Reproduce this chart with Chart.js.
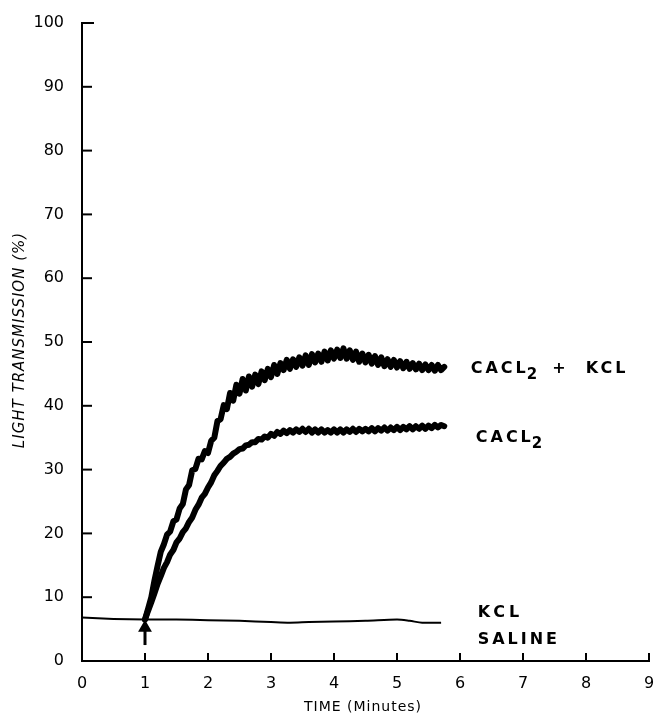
<!DOCTYPE html>
<html>
<head>
<meta charset="utf-8">
<script src="https://cdn.jsdelivr.net/npm/chart.js@4"></script>
<style>
  html, body { margin: 0; padding: 0; background: #fff; }
  #wrap { width: 657px; height: 716px; }
</style>
</head>
<body>
<div id="wrap"><canvas id="grafico" width="657" height="716"></canvas></div>
<script>
// time in minutes for the two recorded traces
var tempo = [1.00,1.05,1.10,1.15,1.20,1.25,1.30,1.35,1.40,1.45,1.50,1.55,1.60,1.65,1.70,1.75,1.80,1.85,1.90,1.95,
  2.00,2.05,2.10,2.15,2.20,2.25,2.30,2.35,2.40,2.45,2.50,2.55,2.60,2.65,2.70,2.75,2.80,2.85,2.90,2.95,
  3.00,3.05,3.10,3.15,3.20,3.25,3.30,3.35,3.40,3.45,3.50,3.55,3.60,3.65,3.70,3.75,3.80,3.85,3.90,3.95,
  4.00,4.05,4.10,4.15,4.20,4.25,4.30,4.35,4.40,4.45,4.50,4.55,4.60,4.65,4.70,4.75,4.80,4.85,4.90,4.95,
  5.00,5.05,5.10,5.15,5.20,5.25,5.30,5.35,5.40,5.45,5.50,5.55,5.60,5.65,5.70,5.75]

// CaCl2 + KCl
var cacl2Kcl = [6.5,8.2,10.0,12.6,14.9,17.1,18.3,19.8,20.3,21.9,22.2,23.9,24.6,26.9,27.6,29.9,30.1,31.7,31.6,32.9,
  32.6,34.5,35.0,37.6,37.9,40.1,39.5,42.0,40.8,43.3,41.9,44.2,42.4,44.6,43.0,44.9,43.4,45.4,44.0,45.8,
  44.5,46.4,45.0,46.7,45.6,47.2,45.8,47.3,46.1,47.6,46.3,47.9,46.4,48.1,46.8,48.2,46.9,48.5,47.1,48.7,
  47.4,48.8,47.5,49.0,47.4,48.7,47.2,48.5,46.9,48.2,46.8,48.0,46.6,47.8,46.4,47.6,46.2,47.3,46.1,47.2,
  46.0,47.0,45.9,46.9,45.8,46.7,45.7,46.6,45.6,46.5,45.6,46.4,45.5,46.4,45.6,46.1]

// CaCl2
var cacl2 = [6.5,7.9,9.2,10.6,12.1,13.3,14.6,15.5,16.7,17.4,18.6,19.2,20.2,20.8,21.8,22.5,23.7,24.5,25.6,26.2,
  27.2,28.0,29.1,29.8,30.6,31.1,31.7,32.0,32.5,32.8,33.2,33.3,33.8,33.9,34.3,34.3,34.8,34.7,35.2,35.0,
  35.6,35.3,35.9,35.6,36.1,35.7,36.2,35.8,36.3,35.9,36.4,35.9,36.4,35.8,36.3,35.8,36.3,35.8,36.2,35.8,
  36.3,35.8,36.3,35.8,36.3,35.9,36.4,35.9,36.4,36.0,36.4,36.0,36.5,36.0,36.5,36.1,36.6,36.1,36.6,36.2,
  36.7,36.2,36.7,36.3,36.8,36.3,36.8,36.4,36.9,36.4,36.9,36.5,37.0,36.6,37.0,36.8]

// KCl / saline baseline
var tempoBase = [0,0.5,1,1.5,2,2.5,3,3.3,3.6,4,4.5,5,5.2,5.4,5.7]
var salina = [6.8,6.6,6.5,6.5,6.4,6.3,6.1,6.0,6.1,6.2,6.3,6.5,6.3,6.0,6.0]

// addition arrow at 1 min
var setaX = [1,1]
var setaY = [2.5,5.2]

var xTicks = [0,1,2,3,4,5,6,7,8,9]
var yTicks = [0,10,20,30,40,50,60,70,80,90,100]

function pares(xs, ys){
    return xs.map(function(x, i){ return {x: x, y: ys[i]} })
}

var fonte = '"DejaVu Sans", sans-serif'

// labels, inward ticks and axis titles
var extras = {
    id: 'extras',
    afterDraw: function(chart){
        var ctx = chart.ctx
        var sx = chart.scales.x, sy = chart.scales.y
        var area = chart.chartArea
        ctx.save()
        ctx.strokeStyle = '#000'
        ctx.lineWidth = 2
        // ticks point into the plot
        yTicks.forEach(function(v){
            var py = sy.getPixelForValue(v)
            ctx.beginPath()
            ctx.moveTo(area.left, py)
            ctx.lineTo(area.left + (v == 100 ? 12 : 10), py)
            ctx.stroke()
        })
        xTicks.forEach(function(v){
            if(v == 0) return
            var px = sx.getPixelForValue(v)
            ctx.beginPath()
            ctx.moveTo(px, area.bottom)
            ctx.lineTo(px, area.bottom - 8)
            ctx.stroke()
        })

        ctx.fillStyle = '#000'
        ctx.textBaseline = 'alphabetic'
        ctx.textAlign = 'left'
        ctx.letterSpacing = '3px'
        ctx.font = 'bold 16px ' + fonte

        function rotulo(partes, x, y){
            var px = sx.getPixelForValue(x)
            var py = sy.getPixelForValue(y)
            partes.forEach(function(p){
                if(p.sub){
                    ctx.font = 'bold 15px ' + fonte
                    ctx.fillText(p.t, px - 2, py + 6)
                    px += ctx.measureText(p.t).width + 10
                    ctx.font = 'bold 16px ' + fonte
                }else{
                    ctx.fillText(p.t, px, py)
                    px += ctx.measureText(p.t).width
                }
            })
        }
        rotulo([{t:'CACL'},{t:'2',sub:true},{t:'+'},{t:'  KCL'}], 6.17, 45.1)
        rotulo([{t:'CACL'},{t:'2',sub:true}], 6.25, 34.3)
        ctx.letterSpacing = '4px'
        rotulo([{t:'KCL'}], 6.28, 6.9)
        ctx.letterSpacing = '3px'
        rotulo([{t:'SALINE'}], 6.28, 2.7)

        // axis titles
        ctx.letterSpacing = '1px'
        ctx.font = '14px ' + fonte
        ctx.textAlign = 'center'
        ctx.textBaseline = 'middle'
        ctx.fillText('TIME (Minutes)', 363, 707)
        ctx.translate(20, 340)
        ctx.rotate(-Math.PI / 2)
        ctx.font = 'italic 15px ' + fonte
        ctx.fillText('LIGHT TRANSMISSION (%)', 0, 0)
        ctx.restore()
    }
}

var grafico = document.getElementById('grafico')

new Chart(grafico, {
    type: 'line',
    data: {
        datasets: [
            {
                label: 'CaCl2 + KCl',
                data: pares(tempo, cacl2Kcl),
                borderColor: '#000',
                borderWidth: 6,
                borderJoinStyle: 'round',
                borderCapStyle: 'round',
                pointRadius: 0,
                tension: 0
            },
            {
                label: 'CaCl2',
                data: pares(tempo, cacl2),
                borderColor: '#000',
                borderWidth: 6,
                borderJoinStyle: 'round',
                borderCapStyle: 'round',
                pointRadius: 0,
                tension: 0
            },
            {
                label: 'KCl / Saline',
                data: pares(tempoBase, salina),
                borderColor: '#000',
                borderWidth: 2,
                pointRadius: 0,
                tension: 0.3
            },
            {
                label: 'seta',
                data: pares(setaX, setaY),
                borderColor: '#000',
                backgroundColor: '#000',
                borderWidth: 3,
                pointStyle: 'triangle',
                pointRadius: [0, 5],
                tension: 0
            }
        ]
    },
    options: {
        responsive: false,
        animation: false,
        layout: { padding: { top: 23, right: 5, left: 0, bottom: 0 } },
        plugins: {
            legend: { display: false },
            tooltip: { enabled: false }
        },
        scales: {
            x: {
                type: 'linear',
                min: 0,
                max: 9,
                afterFit: function(s){ s.height = 55; s.paddingLeft = 0; s.paddingRight = 0 },
                afterBuildTicks: function(s){ s.ticks = xTicks.map(function(v){ return {value: v} }) },
                grid: { display: false, drawTicks: false },
                border: { display: true, color: '#000', width: 2 },
                ticks: { color: '#000', padding: 13, font: { family: fonte, size: 16 } }
            },
            y: {
                min: 0,
                max: 100,
                afterFit: function(s){ s.width = 82; s.paddingTop = 0; s.paddingBottom = 0 },
                afterBuildTicks: function(s){ s.ticks = yTicks.map(function(v){ return {value: v} }) },
                grid: { display: false, drawTicks: false },
                border: { display: true, color: '#000', width: 2 },
                ticks: { color: '#000', padding: 18, font: { family: fonte, size: 16 } }
            }
        }
    },
    plugins: [extras]
})
</script>
</body>
</html>
